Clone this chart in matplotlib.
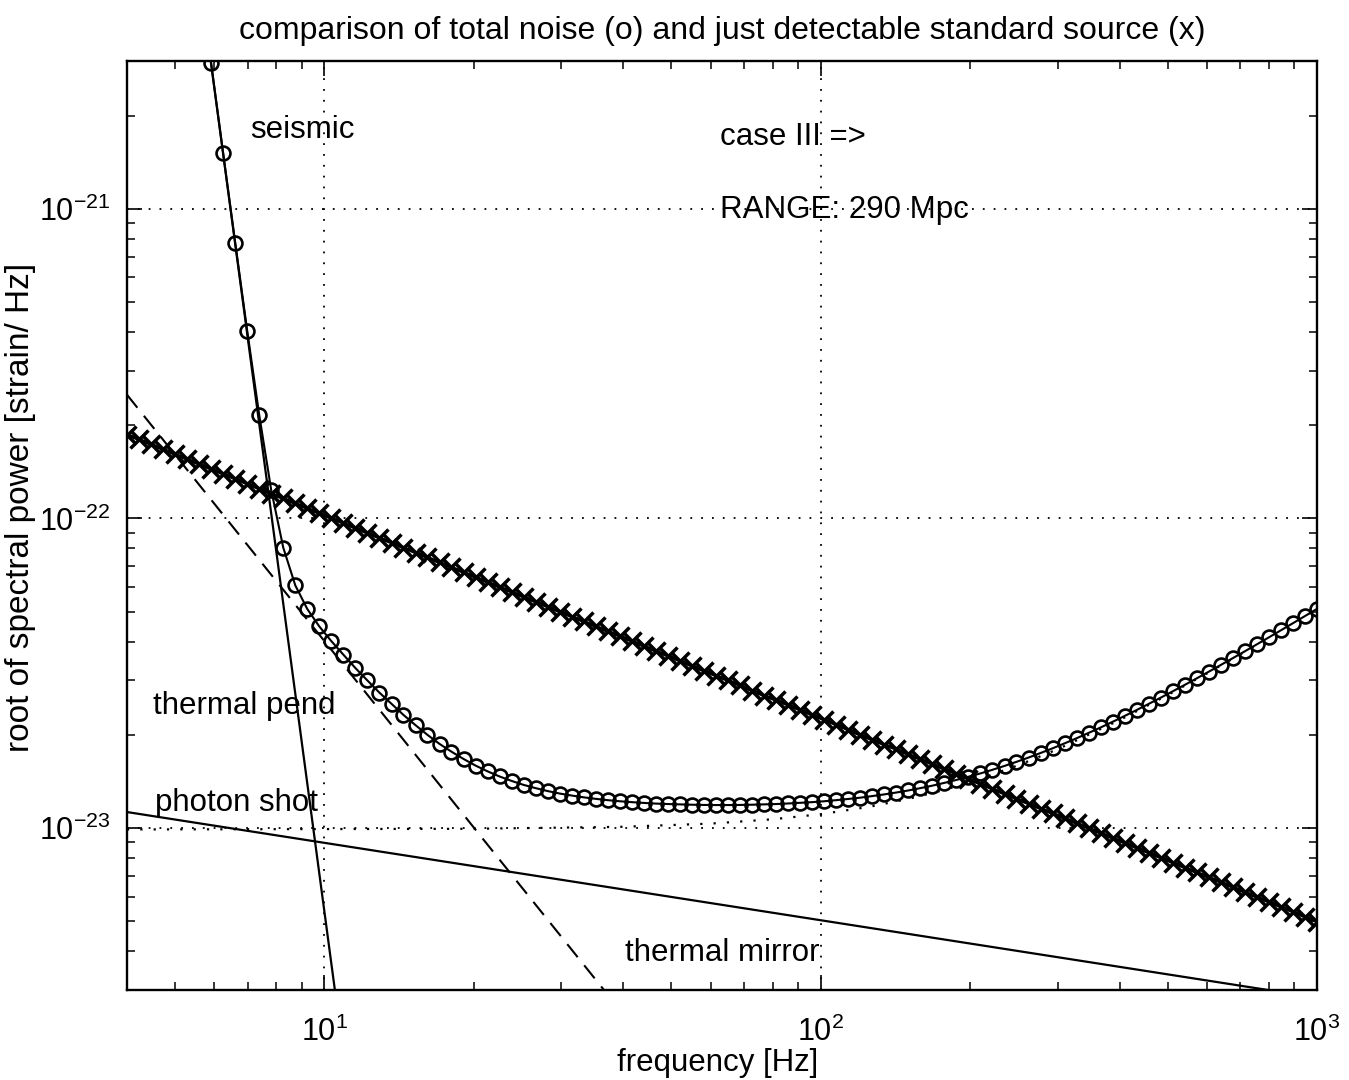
import matplotlib
matplotlib.use('Agg')
import matplotlib.pyplot as plt
from matplotlib.ticker import LogLocator, LogFormatterSciNotation, NullFormatter

plt.rcParams['font.family'] = ['Liberation Sans', 'DejaVu Sans']
plt.rcParams['mathtext.fontset'] = 'custom'
plt.rcParams['mathtext.rm'] = 'Liberation Sans'
plt.rcParams['mathtext.it'] = 'Liberation Sans:italic'
plt.rcParams['mathtext.bf'] = 'Liberation Sans:bold'
plt.rcParams['axes.unicode_minus'] = False

# frequency grid of the marked curves [Hz]
freq = [4.000, 4.231, 4.474, 4.730, 5.000, 5.287, 5.590, 5.911, 6.250, 6.609,
        6.988, 7.389, 7.812, 8.261, 8.735, 9.235, 9.764, 10.32, 10.92, 11.54,
        12.20, 12.90, 13.65, 14.43, 15.26, 16.13, 17.06, 18.03, 19.07, 20.16,
        21.32, 22.54, 23.84, 25.20, 26.65, 28.18, 29.79, 31.50, 33.31, 35.22,
        37.24, 39.37, 41.63, 44.02, 46.54, 49.21, 52.03, 55.02, 58.17, 61.51,
        65.04, 68.77, 72.71, 76.88, 81.29, 85.95, 90.88, 96.09, 101.6, 107.4,
        113.6, 120.1, 127.0, 134.3, 142.0, 150.1, 158.7, 167.8, 177.5, 187.7,
        198.4, 209.8, 221.8, 234.6, 248.0, 262.3, 277.3, 293.2, 310.0, 327.8,
        346.6, 366.5, 387.5, 409.7, 433.2, 458.1, 484.3, 512.1, 541.5, 572.5,
        605.4, 640.1, 676.8, 715.6, 756.7, 800.1, 845.9, 894.5, 945.8, 1000.0]

# total noise (o)
total_noise = [3.19e-19, 1.63e-19, 8.36e-20, 4.28e-20, 2.19e-20, 1.123e-20, 5.75e-21, 2.946e-21, 1.511e-21, 7.78e-22,
               4.04e-22, 2.159e-22, 1.235e-22, 8.05e-23, 6.08e-23, 5.10e-23, 4.48e-23, 4.02e-23, 3.63e-23, 3.29e-23,
               3.00e-23, 2.74e-23, 2.52e-23, 2.32e-23, 2.15e-23, 2.00e-23, 1.87e-23, 1.765e-23, 1.672e-23, 1.592e-23,
               1.525e-23, 1.468e-23, 1.420e-23, 1.379e-23, 1.346e-23, 1.317e-23, 1.293e-23, 1.274e-23, 1.257e-23, 1.243e-23,
               1.231e-23, 1.221e-23, 1.213e-23, 1.206e-23, 1.200e-23, 1.196e-23, 1.193e-23, 1.190e-23, 1.188e-23, 1.187e-23,
               1.187e-23, 1.188e-23, 1.190e-23, 1.193e-23, 1.196e-23, 1.201e-23, 1.207e-23, 1.213e-23, 1.221e-23, 1.231e-23,
               1.242e-23, 1.254e-23, 1.269e-23, 1.285e-23, 1.303e-23, 1.323e-23, 1.346e-23, 1.371e-23, 1.400e-23, 1.431e-23,
               1.465e-23, 1.502e-23, 1.543e-23, 1.588e-23, 1.637e-23, 1.690e-23, 1.748e-23, 1.810e-23, 1.878e-23, 1.951e-23,
               2.030e-23, 2.114e-23, 2.205e-23, 2.303e-23, 2.407e-23, 2.519e-23, 2.638e-23, 2.766e-23, 2.902e-23, 3.046e-23,
               3.201e-23, 3.365e-23, 3.540e-23, 3.725e-23, 3.923e-23, 4.132e-23, 4.354e-23, 4.590e-23, 4.840e-23, 5.105e-23]

# just detectable standard source (x)
source = [1.866e-22, 1.799e-22, 1.735e-22, 1.672e-22, 1.612e-22, 1.554e-22, 1.498e-22, 1.445e-22, 1.393e-22, 1.343e-22,
          1.295e-22, 1.248e-22, 1.203e-22, 1.160e-22, 1.118e-22, 1.078e-22, 1.039e-22, 1.002e-22, 9.66e-23, 9.31e-23,
          8.98e-23, 8.66e-23, 8.35e-23, 8.05e-23, 7.76e-23, 7.48e-23, 7.21e-23, 6.95e-23, 6.70e-23, 6.46e-23,
          6.23e-23, 6.00e-23, 5.79e-23, 5.58e-23, 5.38e-23, 5.19e-23, 5.00e-23, 4.82e-23, 4.65e-23, 4.48e-23,
          4.32e-23, 4.17e-23, 4.02e-23, 3.87e-23, 3.73e-23, 3.60e-23, 3.47e-23, 3.34e-23, 3.22e-23, 3.11e-23,
          3.00e-23, 2.89e-23, 2.78e-23, 2.68e-23, 2.59e-23, 2.50e-23, 2.41e-23, 2.32e-23, 2.24e-23, 2.16e-23,
          2.08e-23, 2.00e-23, 1.93e-23, 1.86e-23, 1.80e-23, 1.73e-23, 1.67e-23, 1.61e-23, 1.55e-23, 1.50e-23,
          1.44e-23, 1.39e-23, 1.34e-23, 1.29e-23, 1.245e-23, 1.20e-23, 1.157e-23, 1.116e-23, 1.076e-23, 1.037e-23,
          9.998e-24, 9.64e-24, 9.29e-24, 8.96e-24, 8.64e-24, 8.33e-24, 8.03e-24, 7.74e-24, 7.46e-24, 7.19e-24,
          6.93e-24, 6.69e-24, 6.45e-24, 6.21e-24, 5.99e-24, 5.78e-24, 5.57e-24, 5.37e-24, 5.17e-24, 4.99e-24]

# noise components
seismic_f = [5.5, 11.0]
seismic = [6.98e-21, 1.71e-24]
pend_f = [4.0, 40.0]
pend = [2.51e-22, 2.51e-24]
mirror_f = [4.0, 1000.0]
mirror = [1.127e-23, 2.835e-24]
shot_f = [4, 20, 40, 60, 80, 100, 125, 150, 175, 200, 250, 300, 400, 500, 600, 700, 800, 900, 1000]
shot = [9.90e-24, 9.95e-24, 1.010e-23, 1.034e-23, 1.068e-23, 1.109e-23, 1.171e-23, 1.242e-23, 1.321e-23,
        1.407e-23, 1.595e-23, 1.797e-23, 2.232e-23, 2.689e-23, 3.159e-23, 3.637e-23, 4.121e-23, 4.608e-23, 5.097e-23]

fig = plt.figure(figsize=(13.49, 10.8), dpi=100)
ax = fig.add_axes([0.0941, 0.0833, 0.8822, 0.8602])

ax.loglog(seismic_f, seismic, color='black', lw=1.6)
ax.loglog(pend_f, pend, color='black', lw=1.5, linestyle=(0, (8, 5)))
ax.loglog(mirror_f, mirror, color='black', lw=1.6)
ax.loglog(shot_f, shot, color='black', lw=1.6, linestyle=(0, (1, 5)))
ax.loglog(freq, total_noise, color='black', lw=1.5, marker='o', ms=10,
          mfc='none', mec='black', mew=1.9)
ax.loglog(freq, source, color='black', lw=2.4, marker='x', ms=12.5, mew=2.5)

ax.set_xlim(4, 1000)
ax.set_ylim(3e-24, 3e-21)

ax.xaxis.set_major_locator(LogLocator(base=10, numticks=10))
ax.yaxis.set_major_locator(LogLocator(base=10, numticks=10))
ax.xaxis.set_minor_locator(LogLocator(base=10, subs=range(2, 10), numticks=20))
ax.yaxis.set_minor_locator(LogLocator(base=10, subs=range(2, 10), numticks=20))
ax.xaxis.set_minor_formatter(NullFormatter())
ax.yaxis.set_minor_formatter(NullFormatter())
ax.xaxis.set_major_formatter(LogFormatterSciNotation())
ax.yaxis.set_major_formatter(LogFormatterSciNotation())

ax.tick_params(which='both', direction='in', top=True, right=True, colors='black')
ax.tick_params(which='major', length=11, width=1.2, labelsize=22)
ax.tick_params(axis='x', which='major', pad=19)
ax.tick_params(axis='y', which='major', pad=12)
ax.tick_params(which='minor', length=5.5, width=1.1)
for s in ax.spines.values():
    s.set_linewidth(1.7)

ax.grid(True, which='major', color='black', lw=1.3, linestyle=(0, (1, 5)))

ax.set_title('comparison of total noise (o) and just detectable standard source (x)',
             fontsize=23, pad=16)
ax.set_xlabel('frequency [Hz]', fontsize=22.5)
ax.set_ylabel('root of spectral power [strain/ Hz]', fontsize=24)
ax.xaxis.set_label_coords(0.496, -0.062)
ax.yaxis.set_label_coords(-0.076, 0.519)

lab = dict(fontsize=22.5, transform=ax.transAxes, va='center', ha='left')
ax.text(0.1034, 0.9257, 'seismic', **lab)
ax.text(0.4983, 0.9180, 'case III =>', **lab)
ax.text(0.4983, 0.8396, 'RANGE: 290 Mpc', **lab)
ax.text(0.0218, 0.3057, 'thermal pend', **lab)
ax.text(0.0235, 0.2013, 'photon shot', **lab)
ax.text(0.4185, 0.0398, 'thermal mirror', **lab)

fig.savefig('out.png', dpi=100)
